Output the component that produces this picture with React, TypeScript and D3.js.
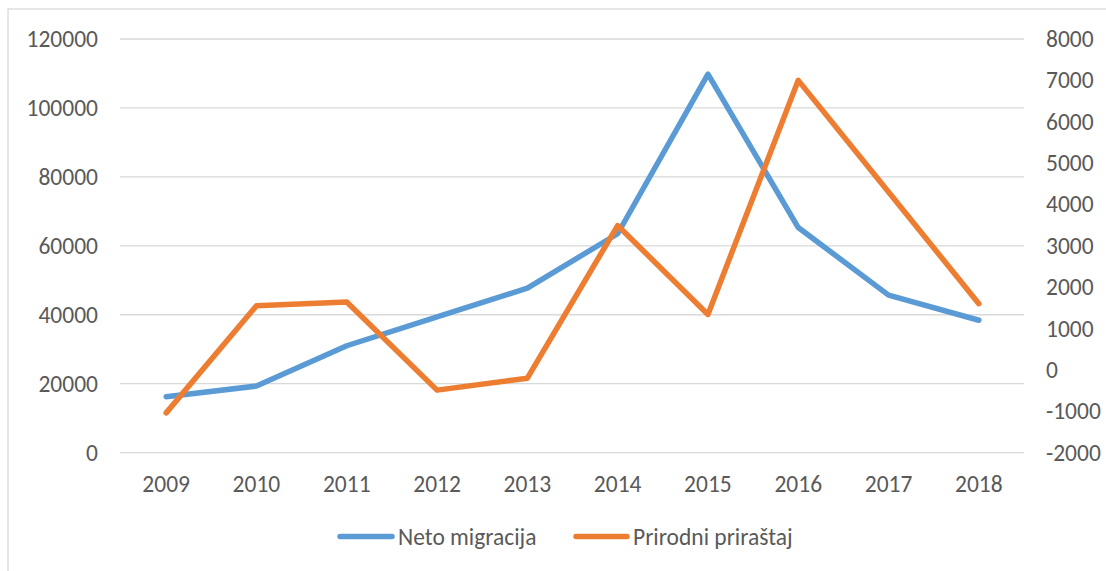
import React from "react";
import * as d3 from "d3";

const years = ["2009", "2010", "2011", "2012", "2013", "2014", "2015", "2016", "2017", "2018"];
const netoMigracija = [16200, 19300, 31000, 39400, 47700, 63500, 109800, 65300, 45700, 38400];
const prirodniPrirastaj = [-1040, 1550, 1640, -490, -200, 3490, 1340, 7000, 4300, 1600];
const leftTicks = [0, 20000, 40000, 60000, 80000, 100000, 120000];
const rightTicks = [-2000, -1000, 0, 1000, 2000, 3000, 4000, 5000, 6000, 7000, 8000];

const W = 1106;
const H = 571;
const BLUE = "#5B9BD5";
const ORANGE = "#ED7D31";
const GRID = "#D9D9D9";
const TEXT = "#595959";
const FONT = "Carlito, Calibri, Lato, sans-serif";
const FS = 23.5;

export default function App() {
  const x = d3.scalePoint<string>().domain(years).range([121, 1024]).padding(0.5);
  const yL = d3.scaleLinear().domain([0, 120000]).range([452.6, 39]);
  const yR = d3.scaleLinear().domain([-2000, 8000]).range([452.6, 39]);

  const lineL = d3
    .line<number>()
    .x((_, i) => x(years[i]) as number)
    .y((d) => yL(d));
  const lineR = d3
    .line<number>()
    .x((_, i) => x(years[i]) as number)
    .y((d) => yR(d));

  return (
    <svg
      width={W}
      height={H}
      style={{ position: "absolute", left: 0, top: 0, background: "#fff" }}
      fontFamily={FONT}
    >
      <rect x={8} y={9} width={1300} height={700} fill="#fff" stroke={GRID} strokeWidth={1.3} />
      {leftTicks.map((t) => (
        <line key={"g" + t} x1={120} x2={1024} y1={yL(t)} y2={yL(t)} stroke={GRID} strokeWidth={1.3} />
      ))}
      {leftTicks.map((t) => (
        <text key={"l" + t} x={98} y={yL(t)} textAnchor="end" dominantBaseline="central" fontSize={FS} fill={TEXT}>
          {t}
        </text>
      ))}
      {rightTicks.map((t) => (
        <text key={"r" + t} x={1046} y={yR(t)} textAnchor="start" dominantBaseline="central" fontSize={FS} fill={TEXT}>
          {t}
        </text>
      ))}
      {years.map((yr) => (
        <text key={"x" + yr} x={x(yr)} y={484} textAnchor="middle" dominantBaseline="central" fontSize={FS} fill={TEXT}>
          {yr}
        </text>
      ))}
      <path d={lineL(netoMigracija) || ""} fill="none" stroke={BLUE} strokeWidth={5.5} strokeLinejoin="round" strokeLinecap="round" />
      <path d={lineR(prirodniPrirastaj) || ""} fill="none" stroke={ORANGE} strokeWidth={5.5} strokeLinejoin="round" strokeLinecap="round" />
      <g>
        <line x1={340} x2={392} y1={536.5} y2={536.5} stroke={BLUE} strokeWidth={5.5} strokeLinecap="round" />
        <text x={398} y={537} dominantBaseline="central" fontSize={FS} fill={TEXT}>Neto migracija</text>
        <line x1={576} x2={627} y1={536.5} y2={536.5} stroke={ORANGE} strokeWidth={5.5} strokeLinecap="round" />
        <text x={633} y={537} dominantBaseline="central" fontSize={FS} fill={TEXT}>Prirodni priraštaj</text>
      </g>
    </svg>
  );
}
